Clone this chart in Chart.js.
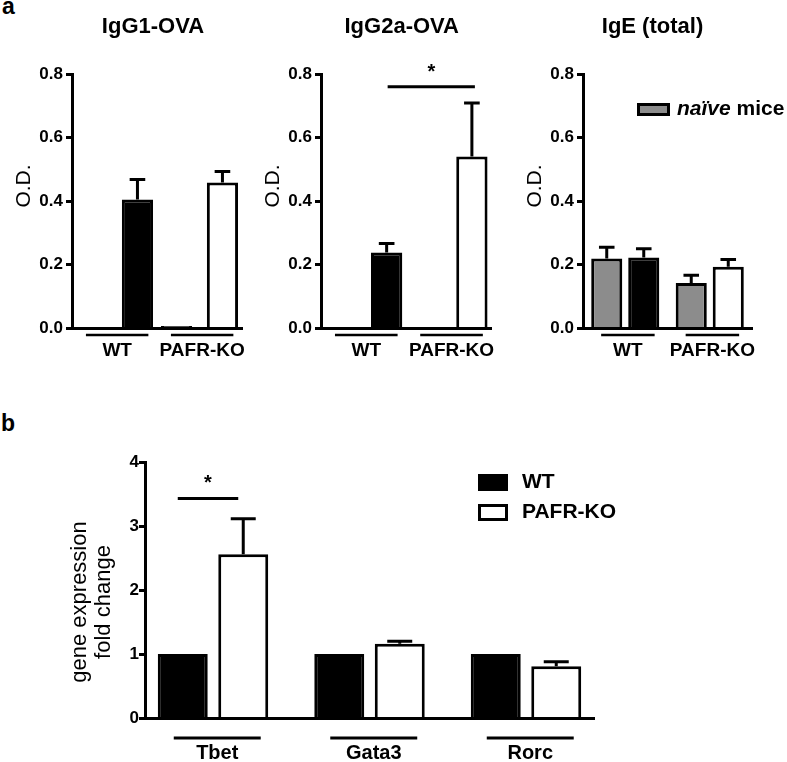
<!DOCTYPE html>
<html>
<head>
<meta charset="utf-8">
<script src="https://cdn.jsdelivr.net/npm/chart.js@4.4.0/dist/chart.umd.min.js"></script>
<style>
  body { margin: 0; background: #fff; }
  #page { position: relative; width: 787px; height: 762px; overflow: hidden; font-family: Arial, "Liberation Sans", sans-serif; }
  canvas { position: absolute; }
  .letter { position: absolute; font-weight: bold; font-size: 23px; line-height: 23px; color: #000; }
</style>
</head>
<body>
<div id="page">
  <div class="letter" style="left:2px;top:-5px">a</div>
  <div class="letter" style="left:1px;top:412px">b</div>
  <canvas id="igg1" width="262" height="370" style="left:0;top:0"></canvas>
  <canvas id="igg2a" width="262" height="370" style="left:262px;top:0"></canvas>
  <canvas id="ige" width="263" height="370" style="left:524px;top:0"></canvas>
  <canvas id="genes" width="787" height="382" style="left:0;top:380px"></canvas>
</div>
<script>
// ---- data ----
const GROUPS = ['WT', 'PAFR-KO'];
const NAIVE_LABEL = 'naïve mice';
const OD_TICKS = [0, 0.2, 0.4, 0.6, 0.8];

const igg1Naive = [0.002, 0.006];
const igg1Immunized = [0.405, 0.458];
const igg1ImmunizedErr = [0.063, 0.035];

const igg2aNaive = [0.001, 0.001];
const igg2aImmunized = [0.238, 0.540];
const igg2aImmunizedErr = [0.028, 0.169];
const igg2aSig = { from: [1, 0], to: [1, 1], value: 0.76, label: '*' };

const igeNaive = [0.219, 0.142];
const igeNaiveErr = [0.035, 0.024];
const igeImmunized = [0.222, 0.193];
const igeImmunizedErr = [0.028, 0.023];

const GENES = ['Tbet', 'Gata3', 'Rorc'];
const FOLD_TICKS = [0, 1, 2, 3, 4];
const geneWT = [1, 1, 1];
const geneKO = [2.56, 1.16, 0.81];
const geneKOErr = [0.555, 0.04, 0.07];
const geneSig = { from: [0, 0], to: [1, 0], value: 3.43, label: '*' };

// ---- styling ----
const FONT = 'Arial, "Liberation Sans", sans-serif';
const GRAY = '#8c8c8c';
Chart.defaults.font.family = FONT;
Chart.defaults.color = '#000';

const decorPlugin = {
  id: 'decor',
  afterDatasetsDraw(chart, args, o) {
    const ctx = chart.ctx;
    const area = chart.chartArea;
    const yScale = chart.scales.y;
    const metas = chart.data.datasets.map((d, i) => chart.getDatasetMeta(i));
    ctx.save();
    ctx.strokeStyle = '#000';
    ctx.fillStyle = '#000';
    ctx.lineCap = 'butt';

    // error bars (upper only)
    ctx.lineWidth = 3;
    chart.data.datasets.forEach((ds, di) => {
      (ds.errors || []).forEach((e, i) => {
        if (!e) return;
        const bar = metas[di].data[i];
        const v = ds.data[i].y !== undefined ? ds.data[i].y : ds.data[i];
        const top = yScale.getPixelForValue(v + e);
        const half = bar.width * o.capRatio / 2;
        ctx.beginPath();
        ctx.moveTo(bar.x, bar.y);
        ctx.lineTo(bar.x, top - 1.5);
        ctx.moveTo(bar.x - half, top);
        ctx.lineTo(bar.x + half, top);
        ctx.stroke();
      });
    });

    // group underlines + labels
    const first = metas[0], last = metas[metas.length - 1];
    ctx.font = `bold ${o.groupFont}px ${FONT}`;
    ctx.textAlign = 'center';
    ctx.textBaseline = 'middle';
    chart.data.labels.forEach((lab, i) => {
      const b1 = first.data[i], b2 = last.data[i];
      const x1 = b1.x - b1.width * 0.18;
      const x2 = b2.x + b2.width * 0.35;
      const yl = area.bottom + o.groupLineGap;
      ctx.lineWidth = o.groupLineWidth;
      ctx.beginPath();
      ctx.moveTo(x1, yl);
      ctx.lineTo(x2, yl);
      ctx.stroke();
      ctx.fillText(lab, (x1 + x2) / 2, area.bottom + o.groupLabelGap);
    });

    // panel title
    if (o.title) {
      ctx.font = `bold ${o.titleFont}px ${FONT}`;
      ctx.fillText(o.title, (area.left + area.right) / 2 + o.titleDx, o.titleY);
    }

    // y axis title
    const cy = (area.top + area.bottom) / 2 + o.yTitleDy;
    o.yTitle.forEach((t, k) => {
      ctx.save();
      ctx.translate(area.left + o.yTitleDx[k], cy);
      ctx.rotate(-Math.PI / 2);
      ctx.font = `${o.yTitleFont}px ${FONT}`;
      ctx.textAlign = 'center';
      ctx.textBaseline = 'middle';
      ctx.fillText(t, 0, 0);
      ctx.restore();
    });

    // significance bar
    if (o.sig) {
      const s = o.sig;
      const a = metas[s.from[0]].data[s.from[1]];
      const b = metas[s.to[0]].data[s.to[1]];
      const x1 = a.x + o.sigDx[0], x2 = b.x + o.sigDx[1];
      const yy = yScale.getPixelForValue(s.value);
      ctx.lineWidth = 3;
      ctx.beginPath();
      ctx.moveTo(x1, yy);
      ctx.lineTo(x2, yy);
      ctx.stroke();
      ctx.font = `bold 20px ${FONT}`;
      ctx.textAlign = 'center';
      ctx.textBaseline = 'alphabetic';
      ctx.fillText(s.label, (x1 + x2) / 2, yy - 9);
    }

    // legend
    if (o.legend) {
      const L = o.legend;
      L.items.forEach((di, k) => {
        const ds = chart.data.datasets[di];
        const bg = Array.isArray(ds.backgroundColor) ? ds.backgroundColor[0] : ds.backgroundColor;
        const bx = L.x, by = L.y + k * L.rowGap;
        ctx.fillStyle = bg;
        ctx.fillRect(bx, by, L.w, L.h);
        ctx.lineWidth = 3;
        ctx.strokeRect(bx + 1.5, by + 1.5, L.w - 3, L.h - 3);
        ctx.fillStyle = '#000';
        ctx.textAlign = 'left';
        ctx.textBaseline = 'middle';
        let tx = bx + L.w + L.textDx;
        const ty = by + L.h / 2;
        const words = ds.label.split(' ');
        words.forEach((w, wi) => {
          const italic = L.italicFirst && wi === 0;
          ctx.font = `${italic ? 'italic ' : ''}bold ${L.font}px ${FONT}`;
          const txt = wi < words.length - 1 ? w + ' ' : w;
          ctx.fillText(txt, tx, ty);
          tx += ctx.measureText(txt).width;
        });
      });
    }
    ctx.restore();
  }
};

function makePanel(id, cfg) {
  return new Chart(document.getElementById(id), {
    type: 'bar',
    data: { labels: cfg.labels, datasets: cfg.datasets },
    options: {
      responsive: false,
      animation: false,
      devicePixelRatio: 1,
      layout: { padding: cfg.padding },
      datasets: {
        bar: {
          categoryPercentage: cfg.catPct,
          barPercentage: cfg.barPct,
          borderWidth: 3,
          borderColor: '#000',
          borderSkipped: 'start'
        }
      },
      plugins: {
        legend: { display: false },
        tooltip: { enabled: false },
        decor: cfg.decor
      },
      scales: {
        x: Object.assign({
          z: 1,
          offset: true,
          grid: { display: false },
          ticks: { display: false },
          border: { display: true, color: '#000', width: 3, z: 1 },
          afterFit: s => { s.height = 0; }
        }, cfg.x || {}),
        y: {
          z: 1,
          min: cfg.ticks[0],
          max: cfg.ticks[cfg.ticks.length - 1],
          afterBuildTicks: s => { s.ticks = cfg.ticks.map(v => ({ value: v })); },
          afterFit: s => { s.width = cfg.axisWidth; },
          grid: { display: true, drawOnChartArea: false, drawTicks: true, tickLength: 6, tickWidth: 3, tickColor: '#000' },
          border: { display: true, color: '#000', width: 3, z: 1 },
          ticks: {
            color: '#000',
            padding: cfg.tickPad,
            font: { family: FONT, size: 17, weight: 'bold' },
            callback: cfg.tickFmt
          }
        }
      }
    },
    plugins: [decorPlugin]
  });
}

const topDecor = {
  titleFont: 22, titleY: 27,
  yTitle: ['O.D.'], yTitleDx: [-48], yTitleDy: -15, yTitleFont: 21,
  groupFont: 19, groupLineGap: 7, groupLabelGap: 23, groupLineWidth: 2.5,
  capRatio: 0.5
};

makePanel('igg1', {
  labels: GROUPS,
  datasets: [
    { label: NAIVE_LABEL, data: igg1Naive, backgroundColor: GRAY },
    { label: 'immunized', data: igg1Immunized, errors: igg1ImmunizedErr, backgroundColor: ['#000', '#fff'] }
  ],
  padding: { top: 74, bottom: 42, left: 0, right: 20 },
  axisWidth: 72, catPct: 1.08, barPct: 0.68,
  ticks: OD_TICKS, tickPad: 3, tickFmt: v => v.toFixed(1),
  decor: Object.assign({}, topDecor, { title: 'IgG1-OVA', titleDx: -4 })
});

makePanel('igg2a', {
  labels: GROUPS,
  datasets: [
    { label: NAIVE_LABEL, data: igg2aNaive, backgroundColor: GRAY },
    { label: 'immunized', data: igg2aImmunized, errors: igg2aImmunizedErr, backgroundColor: ['#000', '#fff'] }
  ],
  padding: { top: 74, bottom: 42, left: 0, right: 32.5 },
  axisWidth: 59, catPct: 1.08, barPct: 0.68,
  ticks: OD_TICKS, tickPad: 3, tickFmt: v => v.toFixed(1),
  decor: Object.assign({}, topDecor, { title: 'IgG2a-OVA', titleDx: -4.5, sig: igg2aSig, sigDx: [1, 3] })
});

makePanel('ige', {
  labels: GROUPS,
  datasets: [
    { label: NAIVE_LABEL, data: igeNaive, errors: igeNaiveErr, backgroundColor: GRAY },
    { label: 'immunized', data: igeImmunized, errors: igeImmunizedErr, backgroundColor: ['#000', '#fff'] }
  ],
  padding: { top: 74, bottom: 42, left: 0, right: 35 },
  axisWidth: 59, catPct: 0.876, barPct: 0.84,
  ticks: OD_TICKS, tickPad: 3, tickFmt: v => v.toFixed(1),
  decor: Object.assign({}, topDecor, {
    title: 'IgE (total)', titleDx: -15,
    legend: { items: [0], x: 113, y: 103, w: 33, h: 13, rowGap: 0, textDx: 7, font: 21, italicFirst: true }
  })
});

makePanel('genes', {
  labels: GENES,
  datasets: [
    { label: 'WT', data: geneWT.map((v, i) => ({ x: i, y: v })), backgroundColor: '#000' },
    { label: 'PAFR-KO', data: geneKO.map((v, i) => ({ x: i, y: v })), errors: geneKOErr, backgroundColor: '#fff' }
  ],
  padding: { top: 82, bottom: 44, left: 0, right: 193 },
  axisWidth: 145, catPct: 0.773, barPct: 0.826,
  x: {
    type: 'linear', offset: false, min: -0.4345, max: GENES.length - 1 + 0.4345,
    afterBuildTicks: s => { s.ticks = GENES.map((g, i) => ({ value: i })); }
  },
  ticks: FOLD_TICKS, tickPad: 0, tickFmt: v => String(v),
  decor: {
    yTitle: ['gene expression', 'fold change'], yTitleDx: [-65, -41.5], yTitleDy: 12, yTitleFont: 22,
    groupFont: 20, groupLineGap: 20, groupLabelGap: 35, groupLineWidth: 3,
    capRatio: 0.5,
    sig: geneSig, sigDx: [-5, -5],
    legend: { items: [0, 1], x: 478, y: 94, w: 30, h: 17, rowGap: 30, textDx: 14, font: 21, italicFirst: false }
  }
});
</script>
</body>
</html>
